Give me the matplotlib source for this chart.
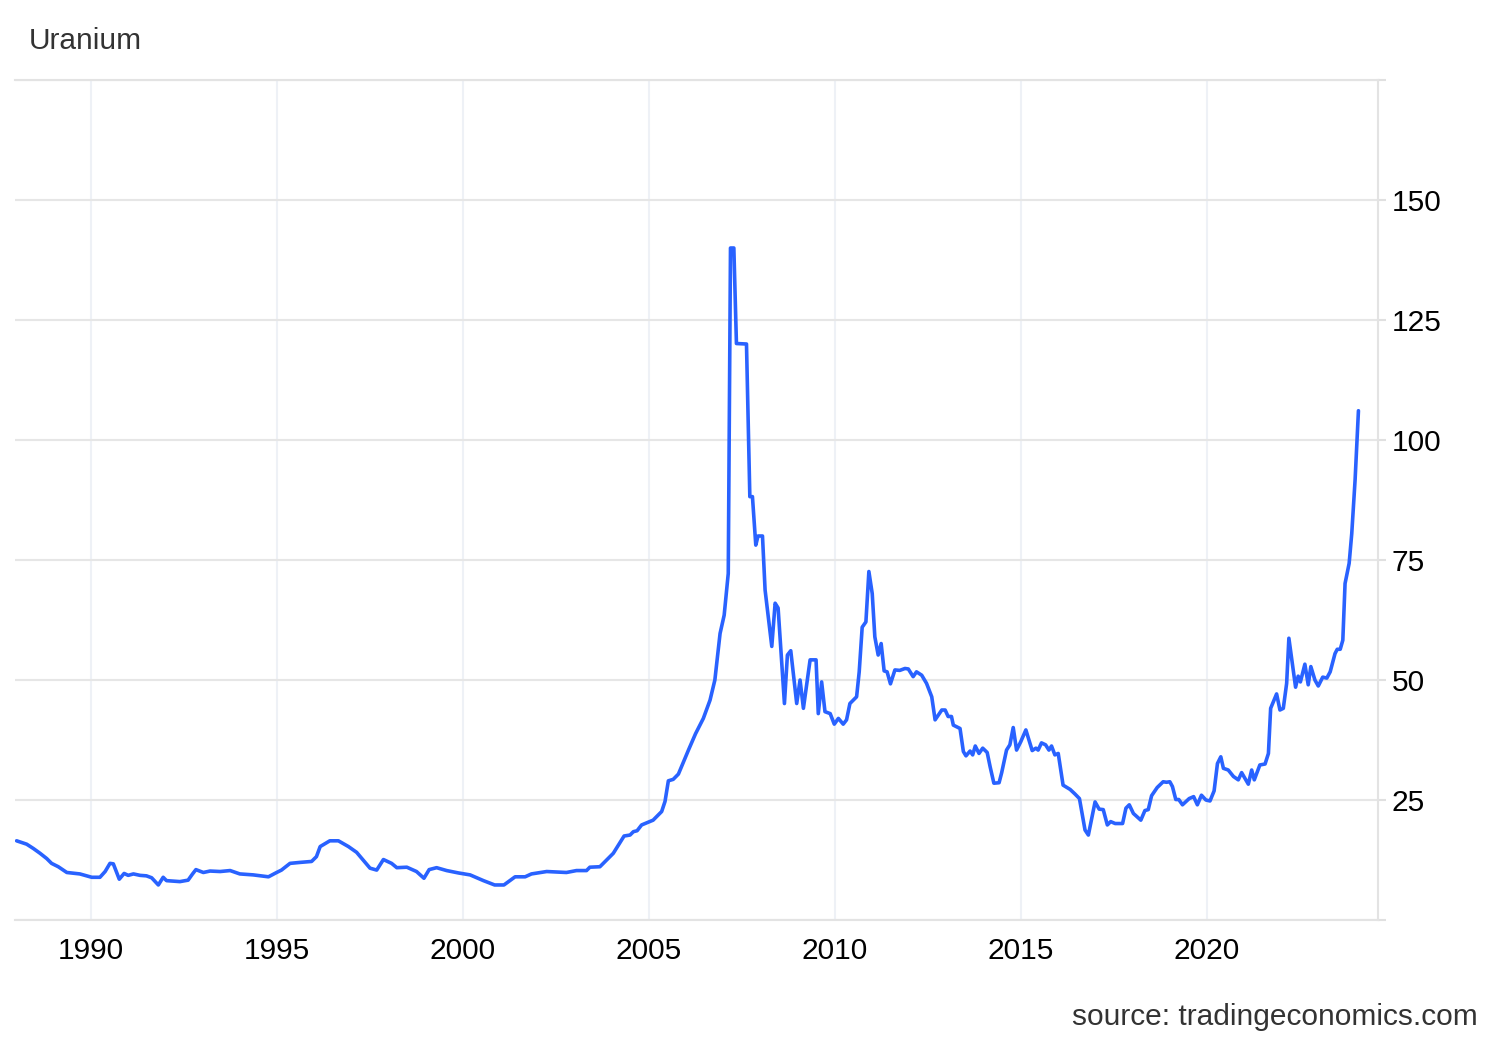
import matplotlib
matplotlib.use("Agg")
import matplotlib.pyplot as plt

plt.rcParams['font.family'] = ['Liberation Sans', 'DejaVu Sans']

title = 'Uranium'
source = 'source: tradingeconomics.com'

# decimal year, price (USD/lb)
years = [
    1988.00, 1988.27, 1988.45, 1988.63, 1988.81, 1988.94, 1989.12, 1989.35, 1989.70,
    1990.02, 1990.24, 1990.38, 1990.51, 1990.60, 1990.76, 1990.89, 1991.00, 1991.14,
    1991.32, 1991.49, 1991.63, 1991.81, 1991.94, 1992.03, 1992.39, 1992.61, 1992.73,
    1992.82, 1993.02, 1993.20, 1993.47, 1993.74, 1994.00, 1994.36, 1994.77, 1994.99,
    1995.12, 1995.35, 1995.62, 1995.93, 1996.06, 1996.16, 1996.42, 1996.65, 1996.92,
    1997.14, 1997.50, 1997.68, 1997.86, 1998.08, 1998.22, 1998.49, 1998.75, 1998.95,
    1999.09, 1999.29, 1999.56, 1999.88, 2000.19, 2000.55, 2000.85, 2001.10, 2001.40,
    2001.67, 2001.84, 2002.25, 2002.78, 2003.05, 2003.32, 2003.41, 2003.68, 2004.04,
    2004.33, 2004.49, 2004.58, 2004.68, 2004.80, 2005.11, 2005.34, 2005.43, 2005.52,
    2005.65, 2005.79, 2006.06, 2006.25, 2006.46, 2006.64, 2006.77, 2006.91, 2007.02,
    2007.13, 2007.19, 2007.28, 2007.35, 2007.62, 2007.71, 2007.78, 2007.87, 2007.93,
    2008.05, 2008.12, 2008.30, 2008.39, 2008.47, 2008.64, 2008.72, 2008.81, 2008.97,
    2009.06, 2009.15, 2009.33, 2009.49, 2009.55, 2009.64, 2009.73, 2009.87, 2009.98,
    2010.09, 2010.22, 2010.31, 2010.40, 2010.58, 2010.65, 2010.73, 2010.83, 2010.91,
    2011.00, 2011.07, 2011.16, 2011.24, 2011.32, 2011.40, 2011.49, 2011.61, 2011.74,
    2011.88, 2011.97, 2012.10, 2012.19, 2012.33, 2012.46, 2012.60, 2012.69, 2012.87,
    2012.96, 2013.04, 2013.13, 2013.18, 2013.36, 2013.45, 2013.52, 2013.63, 2013.70,
    2013.77, 2013.87, 2013.97, 2014.09, 2014.17, 2014.27, 2014.41, 2014.48, 2014.61,
    2014.70, 2014.79, 2014.88, 2014.99, 2015.13, 2015.30, 2015.40, 2015.46, 2015.55,
    2015.66, 2015.75, 2015.82, 2015.91, 2016.00, 2016.13, 2016.32, 2016.45, 2016.57,
    2016.72, 2016.81, 2016.99, 2017.10, 2017.21, 2017.32, 2017.41, 2017.53, 2017.73,
    2017.82, 2017.91, 2018.02, 2018.22, 2018.33, 2018.42, 2018.51, 2018.66, 2018.82,
    2018.91, 2019.00, 2019.07, 2019.16, 2019.24, 2019.34, 2019.52, 2019.64, 2019.74,
    2019.85, 2019.97, 2020.08, 2020.19, 2020.28, 2020.37, 2020.44, 2020.57, 2020.71,
    2020.84, 2020.93, 2021.02, 2021.11, 2021.20, 2021.27, 2021.42, 2021.56, 2021.65,
    2021.71, 2021.87, 2021.96, 2022.05, 2022.14, 2022.20, 2022.38, 2022.45, 2022.51,
    2022.63, 2022.72, 2022.79, 2022.90, 2022.99, 2023.11, 2023.22, 2023.31, 2023.44,
    2023.50, 2023.58, 2023.65, 2023.71, 2023.82, 2023.89, 2023.98, 2024.07,
]
prices = [
    16.5, 15.8, 14.9, 13.9, 12.8, 11.8, 11.1, 9.9, 9.6,
    8.9, 8.9, 10.1, 11.8, 11.7, 8.5, 9.7, 9.3, 9.6,
    9.3, 9.2, 8.8, 7.3, 8.9, 8.2, 8.0, 8.3, 9.6,
    10.5, 9.9, 10.2, 10.1, 10.3, 9.6, 9.4, 9.0, 9.9,
    10.4, 11.8, 12.0, 12.2, 13.2, 15.3, 16.5, 16.5, 15.3,
    14.1, 10.8, 10.4, 12.6, 11.8, 10.9, 11.0, 10.1, 8.7,
    10.5, 10.9, 10.3, 9.8, 9.4, 8.2, 7.3, 7.3, 9.0,
    9.0, 9.6, 10.1, 9.9, 10.3, 10.3, 11.0, 11.1, 13.9,
    17.5, 17.7, 18.4, 18.6, 19.8, 20.8, 22.6, 24.7, 29.0,
    29.3, 30.4, 35.4, 38.8, 42.0, 45.8, 50.0, 59.7, 63.5,
    72.2, 140.0, 140.0, 120.1, 120.0, 88.2, 88.2, 78.1, 80.0,
    80.0, 68.75, 57.0, 66.0, 65.0, 45.1, 55.2, 56.1, 45.1,
    50.0, 44.1, 54.2, 54.2, 43.0, 49.6, 43.4, 43.0, 40.8,
    42.0, 40.8, 41.7, 45.1, 46.5, 51.7, 61.0, 62.1, 72.6,
    68.0, 59.0, 55.2, 57.6, 51.9, 51.7, 49.2, 52.1, 52.0,
    52.4, 52.3, 50.7, 51.7, 51.0, 49.3, 46.5, 41.7, 43.75,
    43.75, 42.4, 42.4, 40.6, 39.9, 35.1, 34.2, 35.2, 34.4,
    36.25, 34.7, 35.8, 34.9, 31.9, 28.5, 28.6, 30.7, 35.4,
    36.5, 40.1, 35.4, 37.1, 39.6, 35.3, 35.8, 35.4, 36.9,
    36.5, 35.4, 36.25, 34.4, 34.7, 28.1, 27.2, 26.25, 25.3,
    18.75, 17.7, 24.6, 23.1, 23.0, 19.8, 20.5, 20.1, 20.1,
    23.3, 24.0, 22.2, 20.8, 22.8, 23.0, 25.9, 27.6, 28.8,
    28.7, 28.8, 27.8, 25.1, 25.1, 24.0, 25.3, 25.7, 24.0,
    26.0, 25.0, 24.8, 26.9, 32.6, 34.0, 31.6, 31.25, 29.9,
    29.2, 30.7, 29.5, 28.3, 31.25, 29.2, 32.3, 32.5, 34.7,
    44.1, 47.1, 43.75, 44.1, 49.3, 58.7, 48.5, 50.8, 49.6,
    53.3, 49.0, 52.8, 50.0, 48.75, 50.6, 50.4, 51.7, 55.5,
    56.4, 56.4, 58.3, 70.1, 74.3, 80.5, 91.7, 106.1,
]

x_ticks = [1990, 1995, 2000, 2005, 2010, 2015, 2020]
y_ticks = [0, 25, 50, 75, 100, 125, 150, 175]
y_labels = ['', '25', '50', '75', '100', '125', '150', '']

fig = plt.figure(figsize=(15, 10.4), dpi=100)
ax = fig.add_axes([0.01, 0.11538, 0.9087, 0.80769])

ax.plot(years, prices, color='#2962ff', lw=2.6, solid_joinstyle='round', solid_capstyle='round', zorder=3)

ax.set_xlim(1987.957, 2024.597)
ax.set_ylim(0, 175)

ax.set_xticks(x_ticks)
ax.set_xticklabels([str(y) for y in x_ticks])
ax.set_yticks(y_ticks)
ax.set_yticklabels(y_labels)
ax.yaxis.tick_right()

ax.xaxis.grid(True, color='#eef1f6', lw=1.5)
ax.yaxis.grid(True, color='#e6e6e6', lw=1.5)
ax.set_axisbelow(True)

ax.tick_params(axis='x', length=0, pad=12, labelsize=21.5, colors='black')
ax.tick_params(axis='y', length=6, width=1.5, color='#e0e0e0', pad=4, labelsize=21.5, labelcolor='black')

ax.spines['left'].set_visible(False)
for side in ['right', 'top', 'bottom']:
    ax.spines[side].set_color('#e3e3e3')
    ax.spines[side].set_linewidth(1.5)

fig.text(0.0193, 1 - 41 / 1040, title, fontsize=21.5, color='#333333', va='center', ha='left')
fig.text(0.9853, 1 - 1017 / 1040, source, fontsize=21.5, color='#333333', va='center', ha='right')

fig.savefig('out.png', dpi=100, facecolor='white')
